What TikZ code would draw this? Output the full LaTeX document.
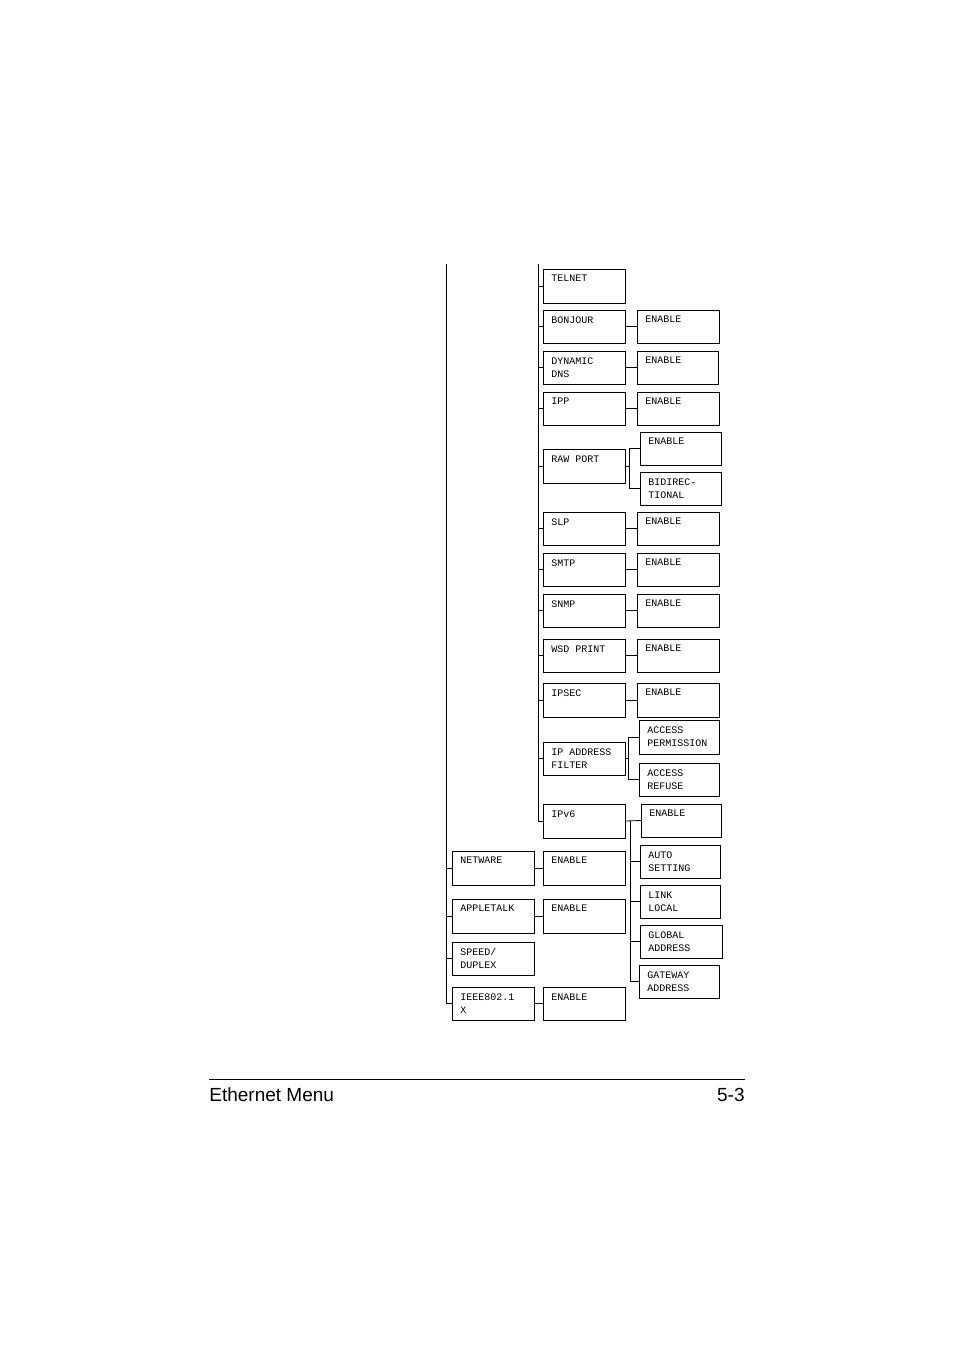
\documentclass[tikz,border=0pt]{standalone}
\usepackage{fontspec}
\setmainfont{Liberation Sans}
\newfontfamily\mono{Liberation Mono}
\begin{document}
\begin{tikzpicture}[x=1pt,y=-1pt,line width=0.8pt,
  lbl/.style={anchor=north west,inner sep=0pt,font=\mono\fontsize{10}{13}\selectfont,align=left}]
\useasboundingbox (0,0) rectangle (954,1350);
\newcommand\mb[6]{% name, x1,y1,x2,y2,text
  \draw (#2,#3) rectangle (#4,#5);
  \coordinate (#1w) at (#2,{(#3+#5)/2});
  \coordinate (#1e) at (#4,{(#3+#5)/2});
  \node[lbl] (#1t) at (#2+8,#3+6) {#6};}
% trunks
\coordinate (t1a) at (446,264); \coordinate (t1b) at (446,1003);
\coordinate (t2a) at (538,264); \coordinate (t2b) at (538,821);
\draw (t1a) -- (t1b);
\draw (t2a) -- (t2b);
% column 2
\mb{tel}{543}{269}{625}{303}{TELNET}
\mb{bon}{543}{310}{625}{343}{BONJOUR}
\mb{bone}{637}{310}{719}{343}{ENABLE}
\mb{dyn}{543}{351}{625}{384}{DYNAMIC\\DNS}
\mb{dyne}{637}{351}{718}{384}{ENABLE}
\mb{ipp}{543}{392}{625}{425}{IPP}
\mb{ippe}{637}{392}{719}{425}{ENABLE}
\mb{raw}{543}{449}{625}{483}{RAW PORT}
\mb{rawe}{640}{432}{721}{465}{ENABLE}
\mb{rawb}{640}{472}{721}{505}{BIDIREC-\\TIONAL}
\mb{slp}{543}{512}{625}{545}{SLP}
\mb{slpe}{637}{512}{719}{545}{ENABLE}
\mb{smtp}{543}{553}{625}{586}{SMTP}
\mb{smtpe}{637}{553}{719}{586}{ENABLE}
\mb{snmp}{543}{594}{625}{627}{SNMP}
\mb{snmpe}{637}{594}{719}{627}{ENABLE}
\mb{wsd}{543}{639}{625}{672}{WSD PRINT}
\mb{wsde}{637}{639}{719}{672}{ENABLE}
\mb{ips}{543}{683}{625}{717}{IPSEC}
\mb{ipse}{637}{683}{719}{717}{ENABLE}
\mb{ipa}{543}{742}{625}{775}{IP ADDRESS\\FILTER}
\mb{ipap}{639}{720}{719}{754}{ACCESS\\PERMISSION}
\mb{ipar}{639}{763}{719}{796}{ACCESS\\REFUSE}
\mb{vsix}{543}{804}{625}{838}{IPv6}
\mb{vsixa}{641}{804}{721}{837}{ENABLE}
\mb{vsixb}{640}{845}{720}{878}{AUTO\\SETTING}
\mb{vsixc}{640}{885}{720}{918}{LINK\\LOCAL}
\mb{vsixd}{640}{925}{722}{958}{GLOBAL\\ADDRESS}
\mb{vsixe}{639}{965}{719}{998}{GATEWAY\\ADDRESS}
% column 1
\mb{net}{452}{851}{534}{885}{NETWARE}
\mb{nete}{543}{851}{625}{885}{ENABLE}
\mb{apl}{452}{899}{534}{933}{APPLETALK}
\mb{aple}{543}{899}{625}{933}{ENABLE}
\mb{spd}{452}{942}{534}{975}{SPEED/\\DUPLEX}
\mb{iee}{452}{987}{534}{1020}{IEEE802.1\\X}
\mb{ieee}{543}{987}{625}{1020}{ENABLE}
% connectors to trunks
\foreach \n in {tel,bon,dyn,ipp,raw,slp,smtp,snmp,wsd,ips,ipa,vsix}
  \draw (\n w) -- (\n w -| t2a);
\foreach \n in {net,apl,spd,iee}
  \draw (\n w) -- (\n w -| t1a);
% simple pairs
\foreach \a/\b in {bon/bone,dyn/dyne,ipp/ippe,slp/slpe,smtp/smtpe,snmp/snmpe,wsd/wsde,ips/ipse,net/nete,apl/aple,iee/ieee,vsix/vsixa}
  \draw (\a e) -- (\b w);
% brackets
\coordinate (bka) at (629,0);
\draw (rawe) -- (rawe -| bka);
\draw (rawew) -- (rawew -| bka) -- (rawbw -| bka) -- (rawbw);
\coordinate (bkb) at (628,0);
\draw (ipae) -- (ipae -| bkb);
\draw (ipapw) -- (ipapw -| bkb) -- (iparw -| bkb) -- (iparw);
\coordinate (bkc) at (630,0);
\draw (vsixew) -- (vsixew -| bkc) -- (vsixaw -| bkc);
\foreach \n in {vsixb,vsixc,vsixd} \draw (\n w) -- (\n w -| bkc);
% footer
\coordinate (fl) at (209,1079); \coordinate (fr) at (745,1079);
\draw[line width=0.7pt] (fl) -- (fr);
\node[anchor=base west,inner sep=0pt,font=\fontsize{19}{22}\selectfont] (ft) at (209,1101) {Ethernet Menu};
\node[anchor=base east,inner sep=0pt,font=\fontsize{19}{22}\selectfont] (fp) at (745,1101) {5-3};
\end{tikzpicture}
\end{document}
